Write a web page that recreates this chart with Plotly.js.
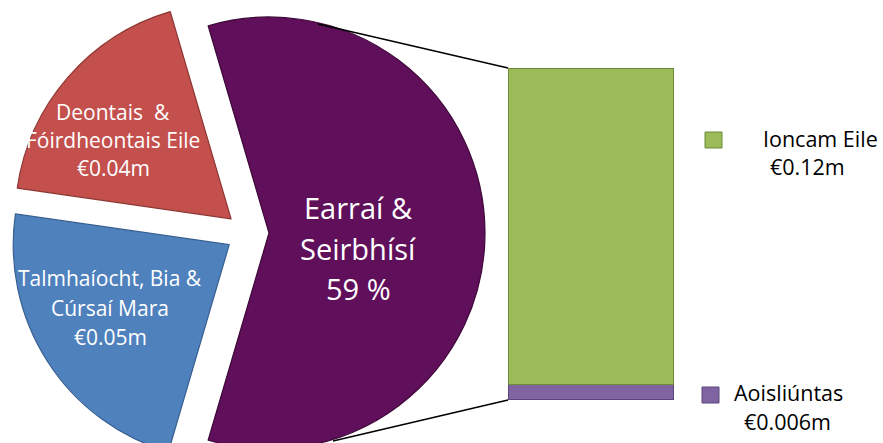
<!DOCTYPE html>
<html>
<head>
<meta charset="utf-8">
<script src="https://cdn.plot.ly/plotly-3.0.1.min.js"></script>
<style>
  html, body { margin: 0; padding: 0; width: 883px; height: 443px; overflow: hidden; background: #ffffff; }
  #chart { position: absolute; left: 0; top: -20px; width: 883px; height: 500px; }
</style>
</head>
<body>
<div id="chart"></div>
<script>
// ---- data ----
const pieLabels = ['Earraí & Seirbhísí', 'Talmhaíocht, Bia & Cúrsaí Mara', 'Deontais & Fóirdheontais Eile'];
const pieValues = [0.13, 0.05, 0.04];
const pieLabelLines = [
  ['Earraí &', 'Seirbhísí'],
  ['Talmhaíocht, Bia &', 'Cúrsaí Mara'],
  ['Deontais \u00a0&', 'Fóirdheontais Eile']
];
const barLabels = ['Aoisliúntas', 'Ioncam Eile'];
const barValues = [0.006, 0.12];
const barValueText = ['€0.006m', '€0.12m'];

// ---- styles ----
const W = 883, H = 500, OFF = 20;
const px = x => x / W;
const py = y => 1 - (y + OFF) / H;
const pieColors = ['#600f5b', '#4f81bd', '#c4504d'];
const pieEdge = ['#3e0839', '#375f90', '#8c3532'];
const barColors = ['#8064a2', '#9bbb59'];
const barEdge = ['#5a4678', '#6e8a3a'];
const FONT = '"Open Sans", "DejaVu Sans", sans-serif';

const total = pieValues.reduce((a, b) => a + b, 0);
const pct = Math.round(pieValues[0] / total * 100);
const valueText = [pct + ' %', '€' + pieValues[1] + 'm', '€' + pieValues[2] + 'm'];

const pieTrace = {
  type: 'pie',
  labels: pieLabels,
  values: pieValues,
  sort: false,
  direction: 'clockwise',
  rotation: 90 - (pieValues[0] / total) * 180,
  pull: [0.1, 0.1, 0.1],
  marker: { colors: pieColors, line: { color: pieEdge, width: 1.2 } },
  textinfo: 'none',
  hoverinfo: 'none',
  domain: { x: [px(9.8), px(485)], y: [py(470.6), py(-4.6)] },
  showlegend: false
};

const barTraces = barLabels.map((lab, i) => ({
  type: 'bar',
  name: lab,
  x: ['bar'],
  y: [barValues[i]],
  width: [1],
  marker: { color: barColors[i], line: { color: barEdge[i], width: 1.2 } },
  hoverinfo: 'none',
  showlegend: false
}));

const barTotal = barValues.reduce((a, b) => a + b, 0);

// ---- text annotations ----
const annotations = [];
function addLines(lines, cx, yStart, spacing, size, color) {
  lines.forEach((t, k) => {
    annotations.push({
      xref: 'paper', yref: 'paper', x: px(cx), y: py(yStart + k * spacing),
      text: t, showarrow: false, xanchor: 'center', yanchor: 'middle',
      font: { family: FONT, size: size, color: color }
    });
  });
}
addLines(pieLabelLines[0].concat([valueText[0]]), 358, 208, 40, 29, '#ffffff');
addLines(pieLabelLines[1].concat([valueText[1]]), 110, 278, 29.5, 21, '#ffffff');
addLines(pieLabelLines[2].concat([valueText[2]]), 113, 112, 28, 21, '#ffffff');

// legend-like labels
annotations.push({ xref: 'paper', yref: 'paper', x: px(820), y: py(138), text: barLabels[1], showarrow: false,
  xanchor: 'center', yanchor: 'middle', font: { family: FONT, size: 21.5, color: '#000000' } });
annotations.push({ xref: 'paper', yref: 'paper', x: px(807), y: py(166), text: barValueText[1], showarrow: false,
  xanchor: 'center', yanchor: 'middle', font: { family: FONT, size: 21.5, color: '#000000' } });
annotations.push({ xref: 'paper', yref: 'paper', x: px(788), y: py(392), text: barLabels[0], showarrow: false,
  xanchor: 'center', yanchor: 'middle', font: { family: FONT, size: 21.5, color: '#000000' } });
annotations.push({ xref: 'paper', yref: 'paper', x: px(787), y: py(421), text: barValueText[0], showarrow: false,
  xanchor: 'center', yanchor: 'middle', font: { family: FONT, size: 21.5, color: '#000000' } });

const shapes = [
  // connector lines
  { type: 'line', xref: 'paper', yref: 'paper', x0: px(318), y0: py(24), x1: px(508), y1: py(68),
    line: { color: '#000000', width: 1.6 } },
  { type: 'line', xref: 'paper', yref: 'paper', x0: px(333), y0: py(441), x1: px(508), y1: py(400),
    line: { color: '#000000', width: 1.6 } },
  // legend swatches
  { type: 'rect', xref: 'paper', yref: 'paper', x0: px(705), y0: py(132), x1: px(722), y1: py(148),
    fillcolor: barColors[1], line: { color: barEdge[1], width: 1 } },
  { type: 'rect', xref: 'paper', yref: 'paper', x0: px(702), y0: py(387), x1: px(719), y1: py(403),
    fillcolor: barColors[0], line: { color: barEdge[0], width: 1 } }
];

const layout = {
  width: W, height: H,
  margin: { l: 0, r: 0, t: 0, b: 0, pad: 0 },
  paper_bgcolor: '#ffffff', plot_bgcolor: 'rgba(0,0,0,0)',
  showlegend: false,
  barmode: 'stack',
  xaxis: { domain: [px(508), px(674)], range: [-0.5, 0.5], visible: false, fixedrange: true },
  yaxis: { domain: [py(400), py(68)], range: [0, barTotal], visible: false, fixedrange: true },
  annotations: annotations,
  shapes: shapes,
  font: { family: FONT }
};

Plotly.newPlot('chart', [pieTrace].concat(barTraces), layout, { staticPlot: true, displayModeBar: false });
</script>
</body>
</html>
